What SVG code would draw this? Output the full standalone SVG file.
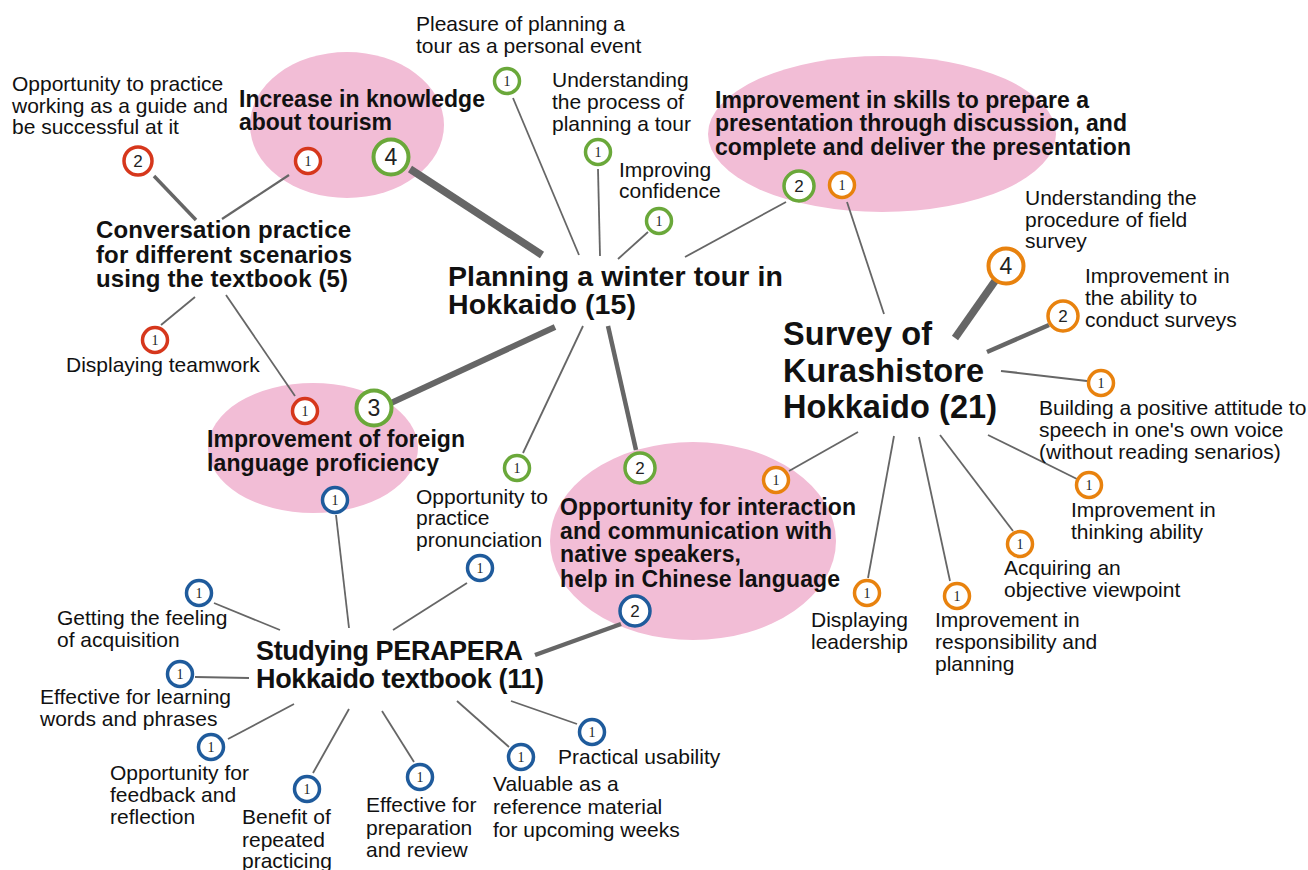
<svg xmlns="http://www.w3.org/2000/svg" width="1308" height="870" viewBox="0 0 1308 870">
<style>
.bg{fill:#ffffff}
.pink{fill:#f2bdd6}
.t{font-family:"Liberation Sans",Arial,sans-serif;font-size:21px;fill:#111}
.b{font-family:"Liberation Sans",Arial,sans-serif;font-weight:bold;font-size:23px;fill:#111}
.b23{font-size:24px}
.b26{font-size:27px}
.b27{font-size:28.5px}
.b31{font-size:32.5px}
.c{fill:#fff;stroke-width:3.5}
.cl{fill:#fff;stroke-width:4}
.red{stroke:#d6371c}
.green{stroke:#6aa83a}
.orange{stroke:#e8820e}
.blue{stroke:#1f5b9c}
.n1{font-family:"Liberation Serif","DejaVu Serif",serif;font-size:14px;fill:#222;text-anchor:middle}
.n2{font-family:"Liberation Sans",Arial,sans-serif;font-size:17px;fill:#222;text-anchor:middle}
.n4{font-family:"Liberation Sans",Arial,sans-serif;font-size:23px;fill:#222;text-anchor:middle}
.ln{stroke:#666;fill:none;stroke-linecap:butt}
.w1{stroke-width:1.8}
.w2{stroke-width:2.2}
.w3{stroke-width:3.5}
.w4{stroke-width:4.5}
.w6{stroke-width:6}
.w7{stroke-width:7.5}
</style>
<rect class="bg" x="0" y="0" width="1308" height="870"/>

<g id="ellipses">
<ellipse class="pink" cx="347" cy="125" rx="97" ry="73"/>
<ellipse class="pink" cx="882" cy="134" rx="174" ry="78"/>
<ellipse class="pink" cx="313" cy="448" rx="105" ry="65"/>
<ellipse class="pink" cx="693" cy="541" rx="143" ry="99"/>
</g>

<g id="connectors">
<line class="ln w3" x1="154" y1="176" x2="196" y2="220"/>
<line class="ln w2" x1="289" y1="175" x2="222" y2="219"/>
<line class="ln w1" x1="161" y1="325" x2="195" y2="297"/>
<line class="ln w1" x1="226" y1="295" x2="295" y2="396"/>
<line class="ln w7" x1="410" y1="169" x2="542" y2="255"/>
<line class="ln w1" x1="513" y1="98" x2="579" y2="255"/>
<line class="ln w1" x1="598" y1="169" x2="600" y2="256"/>
<line class="ln w1" x1="648" y1="232" x2="618" y2="259"/>
<line class="ln w1" x1="786" y1="202" x2="685" y2="257"/>
<line class="ln w6" x1="555" y1="327" x2="391" y2="403"/>
<line class="ln w1" x1="583" y1="326" x2="523" y2="453"/>
<line class="ln w4" x1="608" y1="326" x2="636" y2="450"/>
<line class="ln w1" x1="847" y1="202" x2="884" y2="314"/>
<line class="ln w7" x1="995" y1="281" x2="955" y2="338"/>
<line class="ln w4" x1="1049" y1="325" x2="987" y2="352"/>
<line class="ln w2" x1="1087" y1="381" x2="1001" y2="371"/>
<line class="ln w1" x1="789" y1="471" x2="858" y2="432"/>
<line class="ln w1" x1="868" y1="578" x2="894" y2="436"/>
<line class="ln w1" x1="950" y1="581" x2="919" y2="437"/>
<line class="ln w1" x1="1013" y1="531" x2="940" y2="435"/>
<line class="ln w1" x1="1077" y1="479" x2="988" y2="435"/>
<line class="ln w1" x1="336" y1="515" x2="349" y2="628"/>
<line class="ln w1" x1="467" y1="583" x2="393" y2="630"/>
<line class="ln w1" x1="214" y1="603" x2="280" y2="630"/>
<line class="ln w1" x1="195" y1="677" x2="249" y2="678"/>
<line class="ln w1" x1="228" y1="739" x2="294" y2="704"/>
<line class="ln w1" x1="313" y1="773" x2="349" y2="709"/>
<line class="ln w1" x1="414" y1="762" x2="382" y2="711"/>
<line class="ln w1" x1="509" y1="747" x2="457" y2="701"/>
<line class="ln w1" x1="577" y1="724" x2="511" y2="701"/>
<line class="ln w4" x1="621" y1="624" x2="535" y2="655"/>
</g>

<g id="node-tourism-knowledge">
<text class="b" x="239" y="107" textLength="246" lengthAdjust="spacing">Increase in knowledge</text>
<text class="b" x="239" y="130" textLength="153" lengthAdjust="spacing">about tourism</text>
</g>
<g id="node-presentation-skills">
<text class="b" x="715" y="108" textLength="374" lengthAdjust="spacing">Improvement in skills to prepare a</text>
<text class="b" x="715" y="131" textLength="412" lengthAdjust="spacing">presentation through discussion, and</text>
<text class="b" x="715" y="155" textLength="416" lengthAdjust="spacing">complete and deliver the presentation</text>
</g>
<g id="node-foreign-language">
<text class="b" x="207" y="447" textLength="258" lengthAdjust="spacing">Improvement of foreign</text>
<text class="b" x="207" y="471" textLength="232" lengthAdjust="spacing">language proficiency</text>
</g>
<g id="node-interaction">
<text class="b" x="560" y="515" textLength="296" lengthAdjust="spacing">Opportunity for interaction</text>
<text class="b" x="560" y="539" textLength="272" lengthAdjust="spacing">and communication with</text>
<text class="b" x="560" y="562" textLength="181" lengthAdjust="spacing">native speakers,</text>
<text class="b" x="560" y="587" textLength="280" lengthAdjust="spacing">help in Chinese language</text>
</g>
<g id="node-conversation">
<text class="b b23" x="96" y="238" textLength="255" lengthAdjust="spacing">Conversation practice</text>
<text class="b b23" x="96" y="263" textLength="256" lengthAdjust="spacing">for different scenarios</text>
<text class="b b23" x="96" y="287" textLength="252" lengthAdjust="spacing">using the textbook (5)</text>
</g>
<g id="node-planning">
<text class="b b27" x="448" y="286" textLength="335" lengthAdjust="spacing">Planning a winter tour in</text>
<text class="b b27" x="448" y="314" textLength="188" lengthAdjust="spacing">Hokkaido (15)</text>
</g>
<g id="node-survey">
<text class="b b31" x="783" y="345" textLength="149" lengthAdjust="spacing">Survey of</text>
<text class="b b31" x="783" y="382" textLength="201" lengthAdjust="spacing">Kurashistore</text>
<text class="b b31" x="783" y="418" textLength="214" lengthAdjust="spacing">Hokkaido (21)</text>
</g>
<g id="node-studying">
<text class="b b26" x="256" y="660" textLength="267" lengthAdjust="spacing">Studying PERAPERA</text>
<text class="b b26" x="256" y="688" textLength="288" lengthAdjust="spacing">Hokkaido textbook (11)</text>
</g>

<!-- red badges -->
<g id="r-guide">
<circle class="c red" cx="138" cy="161" r="14"/><text class="n2" x="138" y="167">2</text>
<text class="t" x="12" y="91">Opportunity to practice</text>
<text class="t" x="12" y="113">working as a guide and</text>
<text class="t" x="12" y="134">be successful at it</text>
</g>
<g id="r-tourism"><circle class="c red" cx="308" cy="161" r="12.5"/><text class="n1" x="308" y="166">1</text></g>
<g id="r-teamwork">
<circle class="c red" cx="155" cy="340" r="12.5"/><text class="n1" x="155" y="345">1</text>
<text class="t" x="66" y="372">Displaying teamwork</text>
</g>
<g id="r-foreign"><circle class="c red" cx="305" cy="411" r="12.5"/><text class="n1" x="305" y="416">1</text></g>

<!-- green badges -->
<g id="g-tourism"><circle class="cl green" cx="391" cy="157" r="17.5"/><text class="n4" x="391" y="165">4</text></g>
<g id="g-pleasure">
<circle class="c green" cx="507" cy="81" r="12.5"/><text class="n1" x="507" y="86">1</text>
<text class="t" x="416" y="31">Pleasure of planning a</text>
<text class="t" x="416" y="53">tour as a personal event</text>
</g>
<g id="g-process">
<circle class="c green" cx="598" cy="152" r="12.5"/><text class="n1" x="598" y="157">1</text>
<text class="t" x="552" y="87">Understanding</text>
<text class="t" x="552" y="109">the process of</text>
<text class="t" x="552" y="131">planning a tour</text>
</g>
<g id="g-confidence">
<circle class="c green" cx="659" cy="221" r="12.5"/><text class="n1" x="659" y="226">1</text>
<text class="t" x="619" y="177">Improving</text>
<text class="t" x="619" y="198">confidence</text>
</g>
<g id="g-skills"><circle class="c green" cx="799" cy="186" r="15"/><text class="n2" x="799" y="192">2</text></g>
<g id="g-foreign"><circle class="cl green" cx="374" cy="408" r="17.5"/><text class="n4" x="374" y="416">3</text></g>
<g id="g-pronunciation">
<circle class="c green" cx="517" cy="468" r="12.5"/><text class="n1" x="517" y="473">1</text>
</g>
<g id="g-interaction"><circle class="c green" cx="640" cy="468" r="15"/><text class="n2" x="640" y="474">2</text></g>

<!-- orange badges -->
<g id="o-skills"><circle class="c orange" cx="842" cy="185" r="12.5"/><text class="n1" x="842" y="190">1</text></g>
<g id="o-procedure">
<circle class="cl orange" cx="1006" cy="266" r="17.5"/><text class="n4" x="1006" y="274">4</text>
<text class="t" x="1025" y="205">Understanding the</text>
<text class="t" x="1025" y="227">procedure of field</text>
<text class="t" x="1025" y="248">survey</text>
</g>
<g id="o-conduct">
<circle class="c orange" cx="1063" cy="316" r="15"/><text class="n2" x="1063" y="322">2</text>
<text class="t" x="1085" y="283">Improvement in</text>
<text class="t" x="1085" y="305">the ability to</text>
<text class="t" x="1085" y="327">conduct surveys</text>
</g>
<g id="o-attitude">
<circle class="c orange" cx="1101" cy="383" r="12.5"/><text class="n1" x="1101" y="388">1</text>
<text class="t" x="1039" y="415">Building a positive attitude to</text>
<text class="t" x="1039" y="437">speech in one's own voice</text>
<text class="t" x="1039" y="459">(without reading senarios)</text>
</g>
<g id="o-interaction"><circle class="c orange" cx="776" cy="480" r="12.5"/><text class="n1" x="776" y="485">1</text></g>
<g id="o-thinking">
<circle class="c orange" cx="1089" cy="485" r="12.5"/><text class="n1" x="1089" y="490">1</text>
<text class="t" x="1071" y="517">Improvement in</text>
<text class="t" x="1071" y="539">thinking ability</text>
</g>
<g id="o-objective">
<circle class="c orange" cx="1020" cy="544" r="12.5"/><text class="n1" x="1020" y="549">1</text>
<text class="t" x="1004" y="575">Acquiring an</text>
<text class="t" x="1004" y="597">objective viewpoint</text>
</g>
<g id="o-leadership">
<circle class="c orange" cx="867" cy="593" r="12.5"/><text class="n1" x="867" y="598">1</text>
<text class="t" x="811" y="627">Displaying</text>
<text class="t" x="811" y="649">leadership</text>
</g>
<g id="o-responsibility">
<circle class="c orange" cx="957" cy="596" r="12.5"/><text class="n1" x="957" y="601">1</text>
<text class="t" x="935" y="627">Improvement in</text>
<text class="t" x="935" y="649">responsibility and</text>
<text class="t" x="935" y="671">planning</text>
</g>

<!-- blue badges -->
<g id="b-foreign"><circle class="c blue" cx="335" cy="500" r="12.5"/><text class="n1" x="335" y="505">1</text></g>
<g id="b-pronunciation">
<circle class="c blue" cx="480" cy="568" r="12.5"/><text class="n1" x="480" y="573">1</text>
<text class="t" x="416" y="504">Opportunity to</text>
<text class="t" x="416" y="525">practice</text>
<text class="t" x="416" y="547">pronunciation</text>
</g>
<g id="b-interaction"><circle class="c blue" cx="635" cy="611" r="15"/><text class="n2" x="635" y="617">2</text></g>
<g id="b-acquisition">
<circle class="c blue" cx="199" cy="593" r="12.5"/><text class="n1" x="199" y="598">1</text>
<text class="t" x="57" y="625">Getting the feeling</text>
<text class="t" x="57" y="647">of acquisition</text>
</g>
<g id="b-words">
<circle class="c blue" cx="180" cy="674" r="12.5"/><text class="n1" x="180" y="679">1</text>
<text class="t" x="40" y="704">Effective for learning</text>
<text class="t" x="40" y="726">words and phrases</text>
</g>
<g id="b-feedback">
<circle class="c blue" cx="211" cy="747" r="12.5"/><text class="n1" x="211" y="752">1</text>
<text class="t" x="110" y="780">Opportunity for</text>
<text class="t" x="110" y="802">feedback and</text>
<text class="t" x="110" y="824">reflection</text>
</g>
<g id="b-repeated">
<circle class="c blue" cx="307" cy="789" r="12.5"/><text class="n1" x="307" y="794">1</text>
<text class="t" x="242" y="824">Benefit of</text>
<text class="t" x="242" y="847">repeated</text>
<text class="t" x="242" y="868">practicing</text>
</g>
<g id="b-preparation">
<circle class="c blue" cx="420" cy="777" r="12.5"/><text class="n1" x="420" y="782">1</text>
<text class="t" x="366" y="812">Effective for</text>
<text class="t" x="366" y="835">preparation</text>
<text class="t" x="366" y="857">and review</text>
</g>
<g id="b-reference">
<circle class="c blue" cx="521" cy="757" r="12.5"/><text class="n1" x="521" y="762">1</text>
<text class="t" x="493" y="791">Valuable as a</text>
<text class="t" x="493" y="814">reference material</text>
<text class="t" x="493" y="837">for upcoming weeks</text>
</g>
<g id="b-usability">
<circle class="c blue" cx="592" cy="732" r="12.5"/><text class="n1" x="592" y="737">1</text>
<text class="t" x="558" y="764">Practical usability</text>
</g>
</svg>
